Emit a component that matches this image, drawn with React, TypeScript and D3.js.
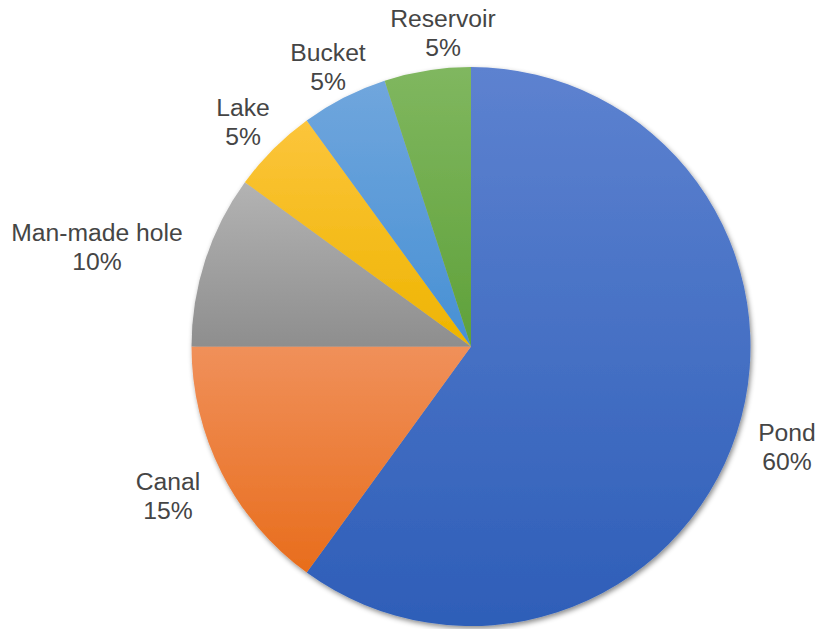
import React from "react";
import * as d3 from "d3";

const categories = ["Pond", "Canal", "Man-made hole", "Lake", "Bucket", "Reservoir"];
const values = [60, 15, 10, 5, 5, 5];
const labels = ["60%", "15%", "10%", "5%", "5%", "5%"];
const topColors = ["#5d82d0", "#f0905a", "#b3b3b3", "#fcc53c", "#70a6dd", "#80b75f"];
const bottomColors = ["#2e5eb8", "#e86d1c", "#8e8e8e", "#eeb400", "#4790d4", "#5fa13a"];

const W = 819;
const H = 629;
const cx = 471;
const cy = 346.5;
const R = 279.5;

// label anchor positions (center x, first-line center y)
const labelPos: [number, number][] = [
  [787, 432],
  [168, 481],
  [97, 232],
  [243, 107],
  [328, 52],
  [443, 18],
];

export default function App() {
  const pie = d3.pie<number>().sort(null).value((d) => d)(values);
  const arc = d3.arc<d3.PieArcDatum<number>>().innerRadius(0).outerRadius(R);
  return (
    <svg
      width={W}
      height={H}
      style={{ position: "absolute", left: 0, top: 0, background: "#fff" }}
      fontFamily="Liberation Sans, Arial, sans-serif"
    >
      <defs>
        <filter id="sh" x="-10%" y="-10%" width="120%" height="120%">
          <feDropShadow dx="1.5" dy="2.5" stdDeviation="2.5" floodColor="#000" floodOpacity="0.45" />
        </filter>
        {categories.map((c, i) => (
          <linearGradient key={c} id={`g${i}`} x1="0" y1="0" x2="0" y2="1">
            <stop offset="0" stopColor={topColors[i]} />
            <stop offset="1" stopColor={bottomColors[i]} />
          </linearGradient>
        ))}
      </defs>
      <g transform={`translate(${cx},${cy})`} filter="url(#sh)">
        {pie.map((p, i) => (
          <path key={i} d={arc(p) || ""} fill={`url(#g${i})`} />
        ))}
      </g>
      {categories.map((c, i) => (
        <text key={c} textAnchor="middle" fontSize={24.7} fill="#454545">
          <tspan x={labelPos[i][0]} y={labelPos[i][1] + 8.8}>{c}</tspan>
          <tspan x={labelPos[i][0]} y={labelPos[i][1] + 8.8 + 29}>{labels[i]}</tspan>
        </text>
      ))}
    </svg>
  );
}
